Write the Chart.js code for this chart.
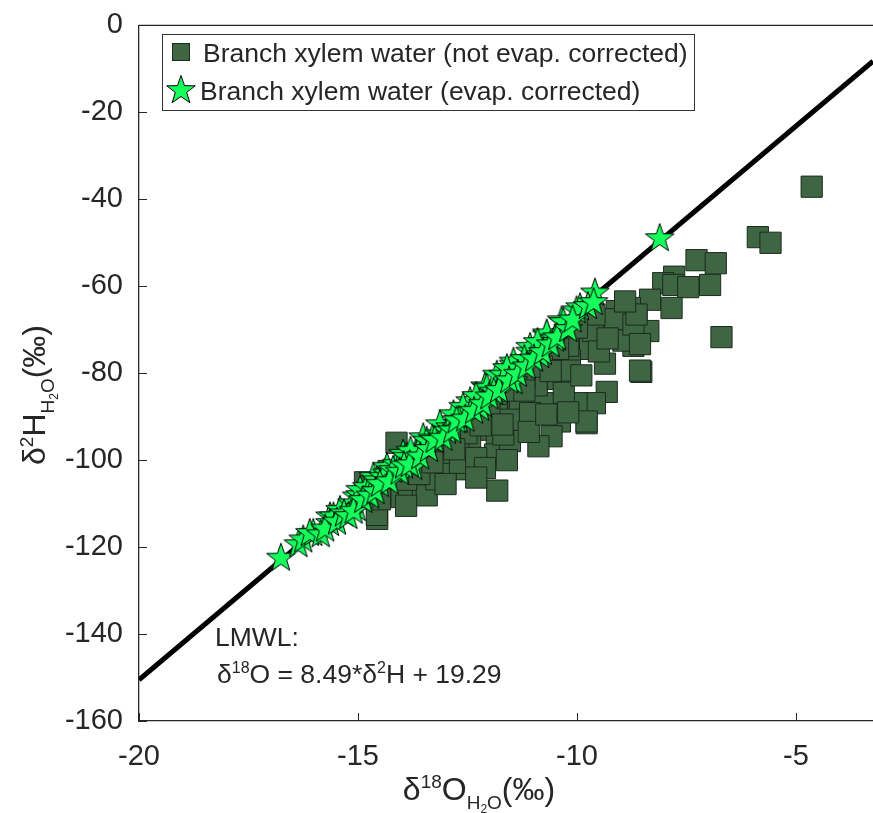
<!DOCTYPE html>
<html>
<head>
<meta charset="utf-8">
<script src="https://cdn.jsdelivr.net/npm/chart.js@4.4.0/dist/chart.umd.min.js"></script>
<style>
body { margin: 0; background: #fff; }
#wrap { width: 873px; height: 813px; }
</style>
</head>
<body>
<div id="wrap"><canvas id="canvas" width="873" height="813"></canvas></div>
<script>
var xTicks = [-20, -15, -10, -5];
var yTicks = [0, -20, -40, -60, -80, -100, -120, -140, -160];

// local meteoric water line, end points
var lmwlX = [-20, -3.24];
var lmwlY = [-150.51, -8.22];

// branch xylem water, not evap. corrected
var squareX = [-4.64, -5.87, -5.58, -6.70, -8.53,
    -7.27, -6.83, -7.78, -8.03, -7.80, -7.46, -6.96, -8.33, -7.84, -9.09, -8.79, -9.09, -8.64, -8.37, -8.87,
    -9.59, -8.71, -10.08, -9.70, -9.36, -10.16, -10.62, -10.43, -10.16, -9.32, -9.59, -10.05, -10.92, -10.96, -10.73,
    -10.39, -10.58, -10.88, -9.78, -11.46, -11.34, -11.83, -12.06, -11.83,
    -14.12, -14.56, -14.57, -11.82, -13.70, -13.43, -14.00, -13.21, -12.90, -12.52, -12.44, -12.71, -12.98, -11.87,
    -11.53, -11.68, -11.83, -11.30, -11.53, -10.92, -11.07, -10.01, -9.78, -10.20, -9.63, -9.13, -8.56, -8.94,
    -8.71, -8.56, -8.64, -10.43, -14.84, -13.13, -12.67, -12.52,
    -13.8, -13.4, -12.9, -12.4, -12.0, -11.6, -11.2, -10.8, -14.3,
    -13.9, -13.6, -13.0, -12.3, -12.1, -11.6, -11.1, -10.7, -10.3, -9.9, -9.5, -9.3, -8.9, -9.6, -10.0,
    -10.6, -11.2, -11.7, -12.2, -12.8, -13.3, -14.5, -14.9, -13.9, -12.3, -10.2];
var squareY = [-37.1, -48.7, -50.0, -71.7, -79.7,
    -54.0, -54.7, -57.8, -59.3, -59.7, -60.2, -59.7, -63.1, -65.0, -65.7, -65.0, -67.6, -68.0, -70.3, -71.8,
    -70.3, -73.7, -72.5, -74.4, -77.8, -77.1, -77.8, -81.3, -79.4, -84.3, -86.9, -87.7, -81.6, -85.4, -86.9,
    -91.1, -94.5, -96.8, -91.5, -85.4, -88.1, -86.9, -93.0, -96.0,
    -96.0, -113.5, -112.6, -107.0, -106.6, -108.1, -108.5, -104.4, -101.3, -102.1, -96.0, -95.3, -97.5, -98.7,
    -95.6, -94.1, -89.6, -87.7, -90.7, -82.8, -89.2, -86.9, -91.1, -73.7, -70.3, -67.6, -79.4, -72.5,
    -68.8, -73.3, -66.5, -74.4, -105.1, -98.3, -100.6, -93.8,
    -99.5, -96.5, -93.5, -90.0, -87.0, -84.0, -81.0, -78.5, -102.5,
    -104.5, -103.2, -105.5, -99.5, -101.8, -100.0, -93.5, -89.5, -84.5, -80.5, -75.0, -72.0, -63.5, -66.5, -69.5,
    -79.5, -84.0, -91.8, -92.0, -97.5, -100.5, -109.0, -108.5, -110.5, -104.0, -89.0];

// branch xylem water, evap. corrected
var starX = [-16.76, -16.36, -16.25, -16.02, -16.10, -15.64, -15.64, -15.56, -15.41, -15.14, -15.03, -15.03,
    -14.95, -14.95, -14.80, -14.65, -14.57, -14.42, -14.34, -14.34, -14.12, -13.97, -13.89, -13.74, -13.66,
    -13.66, -13.51, -13.43, -13.13, -13.13, -12.97, -12.90, -12.82, -12.44, -12.21, -12.10, -12.06, -11.83,
    -11.68, -11.45, -11.45, -11.45, -11.07, -11.07, -10.84, -10.69, -10.69, -10.35, -10.31, -10.01, -9.93,
    -9.59, -8.11, -12.6, -12.3, -11.9, -11.2, -10.5, -13.3, -13.8, -14.2, -12.7, -11.6, -10.9,
    -15.85, -15.75, -15.48, -15.32, -15.22, -15.10, -14.88, -14.72, -14.60, -14.50, -14.28, -14.05, -13.95,
    -13.82, -13.58, -13.38, -13.25, -13.05, -12.85, -12.75, -12.55, -12.35, -12.15, -12.00, -11.78, -11.55,
    -11.35, -11.15, -10.98, -10.78, -10.60, -10.45, -10.20, -10.10, -9.75, -9.62];
var starY = [-122.2, -119.1, -118.0, -116.5, -116.5, -112.7, -114.2, -112.7, -111.2, -109.7, -110.8, -108.1,
    -107.8, -106.6, -105.9, -103.6, -104.4, -103.6, -102.8, -101.3, -100.6, -98.3, -99.0, -101.3, -97.5,
    -98.3, -94.5, -95.3, -93.8, -91.5, -93.0, -92.2, -89.2, -86.2, -87.7, -82.8, -83.1, -80.1,
    -80.1, -77.8, -81.6, -77.1, -74.8, -73.7, -75.6, -71.0, -70.6, -67.6, -68.0, -65.3, -64.6,
    -61.2, -48.7, -87.5, -85.0, -84.0, -76.5, -71.8, -94.8, -97.6, -102.0, -90.5, -78.6, -72.6,
    -116.8, -115.5, -113.9, -112.0, -112.6, -111.4, -108.9, -107.9, -106.9, -105.2, -104.6, -102.4, -101.0,
    -100.7, -98.9, -97.2, -95.1, -94.6, -92.9, -90.6, -90.2, -88.4, -86.8, -85.1, -83.6, -81.4,
    -79.9, -78.2, -76.4, -74.9, -73.1, -71.5, -69.6, -67.4, -64.3, -63.4];

var FONT = '"Liberation Sans", Arial, Helvetica, sans-serif';
var TXT = '#262626';

function toPoints(xs, ys) {
    var out = [];
    for (var i = 0; i < xs.length; i++) out.push({x: xs[i], y: ys[i]});
    return out;
}

function makeStar(size, fill) {
    var c = document.createElement('canvas');
    c.width = size; c.height = size;
    var g = c.getContext('2d');
    var cx = size / 2, cy = size / 2 + 1.5, ro = size / 2 - 1, ri = ro * 0.4;
    g.beginPath();
    for (var i = 0; i < 10; i++) {
        var r = i % 2 == 0 ? ro : ri;
        var a = -Math.PI / 2 + i * Math.PI / 5;
        var px = cx + r * Math.cos(a), py = cy + r * Math.sin(a);
        if (i == 0) g.moveTo(px, py); else g.lineTo(px, py);
    }
    g.closePath();
    g.fillStyle = fill;
    g.fill();
    g.lineWidth = 1;
    g.strokeStyle = '#000';
    g.stroke();
    return c;
}

var starImg = makeStar(32, '#14ff5c');

// text with super/subscripts, segs = [text, size, dy]
function richWidth(ctx, segs) {
    var w = 0;
    segs.forEach(function(s) {
        ctx.font = s[1] + 'px ' + FONT;
        w += ctx.measureText(s[0]).width;
    });
    return w;
}
function drawRich(ctx, segs, x, y) {
    segs.forEach(function(s) {
        ctx.font = s[1] + 'px ' + FONT;
        ctx.fillText(s[0], x, y + (s[2] || 0));
        x += ctx.measureText(s[0]).width;
    });
}

var decor = {
    id: 'decor',
    afterDraw: function(chart) {
        var ctx = chart.ctx;
        var a = chart.chartArea;
        var xs = chart.scales.x, ys = chart.scales.y;
        ctx.save();
        ctx.strokeStyle = TXT;
        ctx.lineWidth = 1.3;
        // top box line
        ctx.beginPath();
        ctx.moveTo(a.left, a.top);
        ctx.lineTo(a.right, a.top);
        ctx.stroke();
        // inward ticks
        ctx.lineWidth = 1;
        ctx.beginPath();
        xTicks.forEach(function(v) {
            var p = Math.round(xs.getPixelForValue(v)) + 0.5;
            ctx.moveTo(p, a.bottom); ctx.lineTo(p, a.bottom - 8);
        });
        yTicks.forEach(function(v) {
            var p = Math.round(ys.getPixelForValue(v)) + 0.5;
            ctx.moveTo(a.left, p); ctx.lineTo(a.left + 8, p);
        });
        ctx.stroke();

        // legend
        ctx.fillStyle = '#fff';
        ctx.fillRect(162, 34, 532, 76);
        ctx.strokeStyle = '#333';
        ctx.lineWidth = 1;
        ctx.strokeRect(162.5, 34.5, 532, 76);
        ctx.fillStyle = '#3f6643';
        ctx.fillRect(172, 43, 18, 18);
        ctx.strokeStyle = '#1b2a1d';
        ctx.strokeRect(172.5, 43.5, 17, 17);
        ctx.drawImage(starImg, 165, 73);
        ctx.fillStyle = TXT;
        ctx.textBaseline = 'alphabetic';
        ctx.textAlign = 'left';
        ctx.font = '26.5px ' + FONT;
        ctx.fillText('Branch xylem water (not evap. corrected)', 203, 62);
        ctx.fillText('Branch xylem water (evap. corrected)', 200, 100);

        // LMWL label
        ctx.font = '26.5px ' + FONT;
        ctx.fillText('LMWL:', 215, 646);
        drawRich(ctx, [['\u03b4', 26.5], ['18', 16, -10], ['O = 8.49*\u03b4', 26.5], ['2', 16, -10], ['H + 19.29', 26.5]], 217, 683);

        // x axis title
        var xt = [['\u03b4', 32], ['18', 19, -12], ['O', 32], ['H', 19, 9], ['2', 12, 13], ['O', 19, 9], ['(\u2030)', 32]];
        var w = richWidth(ctx, xt);
        drawRich(ctx, xt, 479 - w / 2, 800);

        // y axis title
        var yt = [['\u03b4', 32], ['2', 19, -12], ['H', 32], ['H', 19, 9], ['2', 12, 13], ['O', 19, 9], ['(\u2030)', 32]];
        w = richWidth(ctx, yt);
        ctx.translate(45, 395);
        ctx.rotate(-Math.PI / 2);
        drawRich(ctx, yt, -w / 2, 0);
        ctx.restore();
    }
};

var config = {
    type: 'scatter',
    data: {
        datasets: [{
            label: 'LMWL',
            data: toPoints(lmwlX, lmwlY),
            showLine: true,
            borderColor: '#000',
            borderWidth: 5,
            pointRadius: 0,
            order: 3
        }, {
            label: 'Branch xylem water (not evap. corrected)',
            data: toPoints(squareX, squareY),
            pointStyle: 'rect',
            pointRadius: 15,
            backgroundColor: '#3f6643',
            borderColor: '#1b2a1d',
            borderWidth: 1,
            order: 2
        }, {
            label: 'Branch xylem water (evap. corrected)',
            data: toPoints(starX, starY),
            pointStyle: starImg,
            order: 1
        }]
    },
    options: {
        responsive: false,
        animation: false,
        devicePixelRatio: 1,
        layout: { autoPadding: false, padding: { top: 17, right: 0, left: 0, bottom: 0 } },
        plugins: {
            legend: { display: false },
            tooltip: { enabled: false }
        },
        scales: {
            x: {
                type: 'linear',
                min: -20,
                max: -3.24,
                afterBuildTicks: function(s) { s.ticks = xTicks.map(function(v) { return {value: v}; }); },
                afterFit: function(s) { s.height = 92; s.paddingRight = 0; s.paddingLeft = 0; },
                grid: { display: false },
                border: { display: true, color: TXT, width: 1.3 },
                ticks: { color: TXT, padding: 11, maxRotation: 0, font: { family: FONT, size: 29 } }
            },
            y: {
                type: 'linear',
                min: -160,
                max: 0,
                afterBuildTicks: function(s) { s.ticks = yTicks.map(function(v) { return {value: v}; }); },
                afterFit: function(s) { s.width = 139; },
                grid: { display: false },
                border: { display: true, color: TXT, width: 1.3 },
                ticks: { color: TXT, padding: 8, font: { family: FONT, size: 29 } }
            }
        }
    },
    plugins: [decor]
};

window.onload = function() {
    var ctx = document.getElementById('canvas').getContext('2d');
    window.myChart = new Chart(ctx, config);
};
</script>
</body>
</html>
